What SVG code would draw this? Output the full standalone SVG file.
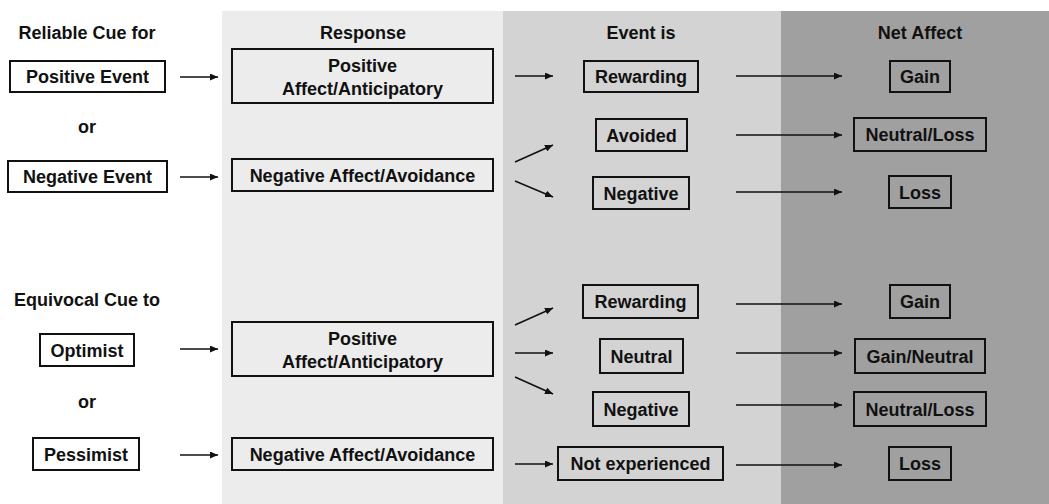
<svg xmlns="http://www.w3.org/2000/svg" width="1049" height="504" viewBox="0 0 1049 504">
<style>
text{font-family:"Liberation Sans",Arial,Helvetica,sans-serif;font-weight:bold;font-size:18px;fill:#111;text-anchor:middle}
.box{stroke:#111;stroke-width:2;fill:none}
.wbox{stroke:#111;stroke-width:2;fill:#fff}
.conn line{stroke:#111;stroke-width:1.6;marker-end:url(#ah)}
</style>
<defs>
<marker id="ah" markerUnits="userSpaceOnUse" markerWidth="9" markerHeight="7" refX="8" refY="3.5" orient="auto">
<path d="M0,0 L8,3.5 L0,7 z" fill="#111"/>
</marker>
</defs>
<rect x="0" y="0" width="1049" height="504" fill="#fff"/>
<g id="columns">
<rect x="222" y="11" width="281" height="493" fill="#ececec"/>
<rect x="503" y="11" width="278" height="493" fill="#d3d3d3"/>
<rect x="781" y="11" width="268" height="493" fill="#a0a0a0"/>
</g>
<g id="headers">
<text x="87" y="39">Reliable Cue for</text>
<text x="363" y="39">Response</text>
<text x="641" y="39">Event is</text>
<text x="920" y="39">Net Affect</text>
<text x="87" y="133">or</text>
<text x="87" y="306">Equivocal Cue to</text>
<text x="87" y="408">or</text>
</g>
<g id="n-positive-event"><rect class="wbox" x="10" y="61" width="155" height="31"/><text x="87.5" y="83">Positive Event</text></g>
<g id="n-negative-event"><rect class="wbox" x="8" y="161" width="159" height="31"/><text x="87.5" y="183">Negative Event</text></g>
<g id="n-optimist"><rect class="wbox" x="40" y="334" width="94" height="32"/><text x="87" y="356.5">Optimist</text></g>
<g id="n-pessimist"><rect class="wbox" x="33" y="438" width="106" height="32"/><text x="86" y="460.5">Pessimist</text></g>
<g id="n-pos-affect-1"><rect class="box" x="232" y="49" width="261" height="54"/><text x="362.5" y="72">Positive</text><text x="362.5" y="95">Affect/Anticipatory</text></g>
<g id="n-neg-affect-1"><rect class="box" x="232" y="159" width="261" height="32"/><text x="362.5" y="181.5">Negative Affect/Avoidance</text></g>
<g id="n-pos-affect-2"><rect class="box" x="232" y="322" width="261" height="54"/><text x="362.5" y="345">Positive</text><text x="362.5" y="368">Affect/Anticipatory</text></g>
<g id="n-neg-affect-2"><rect class="box" x="232" y="438" width="261" height="32"/><text x="362.5" y="460.5">Negative Affect/Avoidance</text></g>
<g id="n-rewarding-1"><rect class="box" x="584" y="61" width="114" height="31"/><text x="641" y="83">Rewarding</text></g>
<g id="n-avoided"><rect class="box" x="596" y="119" width="91" height="32"/><text x="641.5" y="141.5">Avoided</text></g>
<g id="n-negative-1"><rect class="box" x="593" y="177" width="96" height="32"/><text x="641" y="199.5">Negative</text></g>
<g id="n-rewarding-2"><rect class="box" x="583" y="285" width="115" height="33"/><text x="640.5" y="308">Rewarding</text></g>
<g id="n-neutral"><rect class="box" x="600" y="339" width="83" height="34"/><text x="641.5" y="362.5">Neutral</text></g>
<g id="n-negative-2"><rect class="box" x="593" y="392" width="96" height="34"/><text x="641" y="415.5">Negative</text></g>
<g id="n-not-experienced"><rect class="box" x="558" y="447" width="165" height="33"/><text x="640.5" y="470">Not experienced</text></g>
<g id="n-gain-1"><rect class="box" x="890" y="61" width="60" height="31"/><text x="920" y="83">Gain</text></g>
<g id="n-neutral-loss-1"><rect class="box" x="854" y="118" width="132" height="33"/><text x="920" y="141">Neutral/Loss</text></g>
<g id="n-loss-1"><rect class="box" x="889" y="176" width="62" height="32"/><text x="920" y="198.5">Loss</text></g>
<g id="n-gain-2"><rect class="box" x="890" y="285" width="60" height="33"/><text x="920" y="308">Gain</text></g>
<g id="n-gain-neutral"><rect class="box" x="855" y="339" width="130" height="34"/><text x="920" y="362.5">Gain/Neutral</text></g>
<g id="n-neutral-loss-2"><rect class="box" x="854" y="392" width="132" height="34"/><text x="920" y="415.5">Neutral/Loss</text></g>
<g id="n-loss-2"><rect class="box" x="889" y="447" width="62" height="33"/><text x="920" y="470">Loss</text></g>
<g id="connectors" class="conn">
<line x1="180" y1="77" x2="218" y2="77"/>
<line x1="180" y1="177" x2="218" y2="177"/>
<line x1="180" y1="349" x2="218" y2="349"/>
<line x1="180" y1="455" x2="218" y2="455"/>
<line x1="515" y1="76" x2="553" y2="76"/>
<line x1="515" y1="162" x2="553" y2="145"/>
<line x1="515" y1="181" x2="553" y2="197"/>
<line x1="515" y1="325" x2="553" y2="308"/>
<line x1="515" y1="353" x2="553" y2="353"/>
<line x1="515" y1="377" x2="553" y2="394"/>
<line x1="515" y1="464" x2="553" y2="464"/>
<line x1="736" y1="76" x2="842" y2="76"/>
<line x1="736" y1="135" x2="842" y2="135"/>
<line x1="736" y1="192" x2="842" y2="192"/>
<line x1="736" y1="304" x2="842" y2="304"/>
<line x1="736" y1="353" x2="842" y2="353"/>
<line x1="736" y1="405" x2="842" y2="405"/>
<line x1="736" y1="465" x2="842" y2="465"/>
</g>
</svg>
